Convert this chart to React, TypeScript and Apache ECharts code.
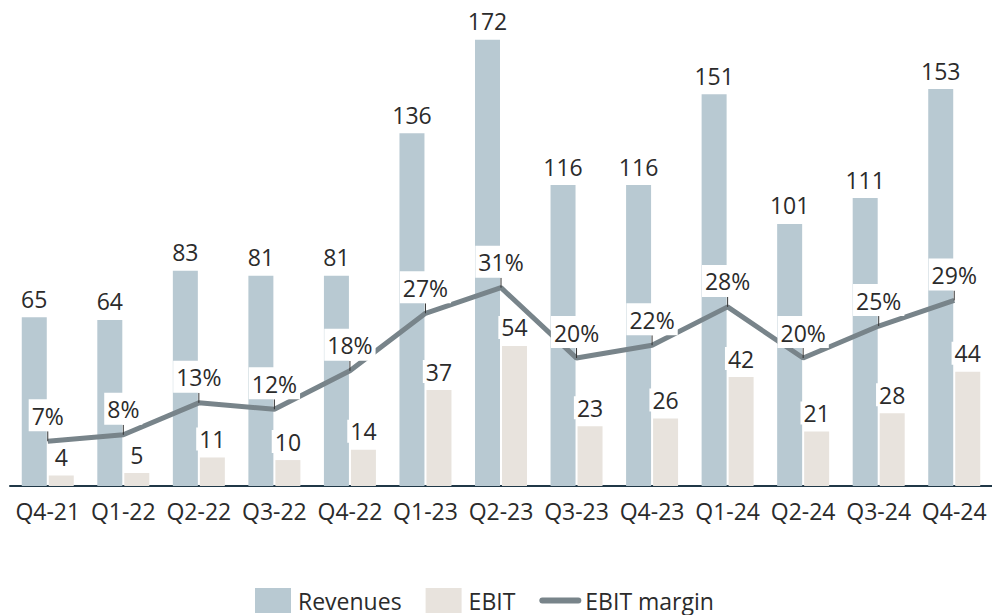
import React, { useEffect, useRef } from "react";
import * as echarts from "echarts";

const categories = ["Q4-21", "Q1-22", "Q2-22", "Q3-22", "Q4-22", "Q1-23", "Q2-23", "Q3-23", "Q4-23", "Q1-24", "Q2-24", "Q3-24", "Q4-24"];
const revenues = [65, 64, 83, 81, 81, 136, 172, 116, 116, 151, 101, 111, 153];
const ebit = [4, 5, 11, 10, 14, 37, 54, 23, 26, 42, 21, 28, 44];
const ebitMargin = [7, 8, 13, 12, 18, 27, 31, 20, 22, 28, 20, 25, 29];

const FONT = "Open Sans";
const TEXT = "#2b2b2b";

export default function App() {
  const ref = useRef<HTMLDivElement>(null);
  useEffect(() => {
    if (!ref.current) return;
    const chart = echarts.init(ref.current, null, { renderer: "svg" });
    chart.setOption({
      animation: false,
      backgroundColor: "#ffffff",
      textStyle: { fontFamily: FONT },
      grid: { left: 10, right: 0, top: 19, bottom: 129, containLabel: false },
      legend: {
        left: 250,
        top: 583,
        itemWidth: 36,
        itemHeight: 25,
        itemGap: 24,
        textStyle: { fontSize: 23, lineHeight: 25, color: TEXT, fontFamily: FONT, padding: [0, 0, 0, 2] },
        data: [
          { name: "Revenues", icon: "rect" },
          { name: "EBIT", icon: "rect" },
          {
            name: "EBIT margin",
            itemStyle: { opacity: 0 },
            lineStyle: { width: 6, cap: "round", color: "#78848a" },
          },
        ],
      },
      xAxis: {
        type: "category",
        data: categories,
        axisLine: { lineStyle: { color: "#203847", width: 2 } },
        axisTick: { show: false },
        axisLabel: { fontSize: 23, color: TEXT, fontFamily: FONT, margin: 13, interval: 0 },
      },
      yAxis: [
        { type: "value", min: 0, max: 180, show: false, splitLine: { show: false } },
        { type: "value", min: 0, max: 73, show: false, splitLine: { show: false } },
      ],
      series: [
        {
          name: "Revenues",
          type: "bar",
          data: revenues,
          barWidth: 25,
          barGap: "8%",
          itemStyle: { color: "#b8c9d2" },
          label: { show: true, position: "top", distance: 7, fontSize: 23, color: TEXT, fontFamily: FONT },
          z: 2,
        },
        {
          name: "EBIT",
          type: "bar",
          data: ebit,
          barWidth: 25,
          itemStyle: { color: "#e8e3dd" },
          label: {
            show: true,
            position: "top",
            distance: 7,
            fontSize: 23,
            color: TEXT,
            fontFamily: FONT,
            backgroundColor: "#ffffff",
            padding: [0, 3, 0, 3],
          },
          z: 2,
        },
        {
          name: "EBIT margin",
          type: "line",
          yAxisIndex: 1,
          data: ebitMargin,
          symbol: "none",
          lineStyle: { color: "#78848a", width: 5 },
          itemStyle: { color: "#78848a" },
          z: 3,
        },
        {
          name: "margin labels",
          type: "custom",
          yAxisIndex: 1,
          data: ebitMargin.map((v, i) => [i, v]),
          encode: { x: 0, y: 1 },
          z: 4,
          renderItem: (params: any, api: any) => {
            const pt = api.coord([api.value(0), api.value(1)]);
            const gap = 10;
            return {
              type: "group",
              children: [
                {
                  type: "line",
                  shape: { x1: pt[0], y1: pt[1], x2: pt[0], y2: pt[1] - gap },
                  style: { stroke: "#333333", lineWidth: 1 },
                },
                {
                  type: "text",
                  x: pt[0],
                  y: pt[1] - gap,
                  style: {
                    text: api.value(1) + "%",
                    fontSize: 23,
                    fontFamily: FONT,
                    fill: TEXT,
                    align: "center",
                    verticalAlign: "bottom",
                    backgroundColor: "#ffffff",
                    padding: [5, 3, 4, 3],
                    lineHeight: 23,
                  },
                },
              ],
            };
          },
        },
      ],
    });
    return () => chart.dispose();
  }, []);
  return <div ref={ref} style={{ position: "fixed", left: 0, top: 0, width: 992, height: 615 }} />;
}
